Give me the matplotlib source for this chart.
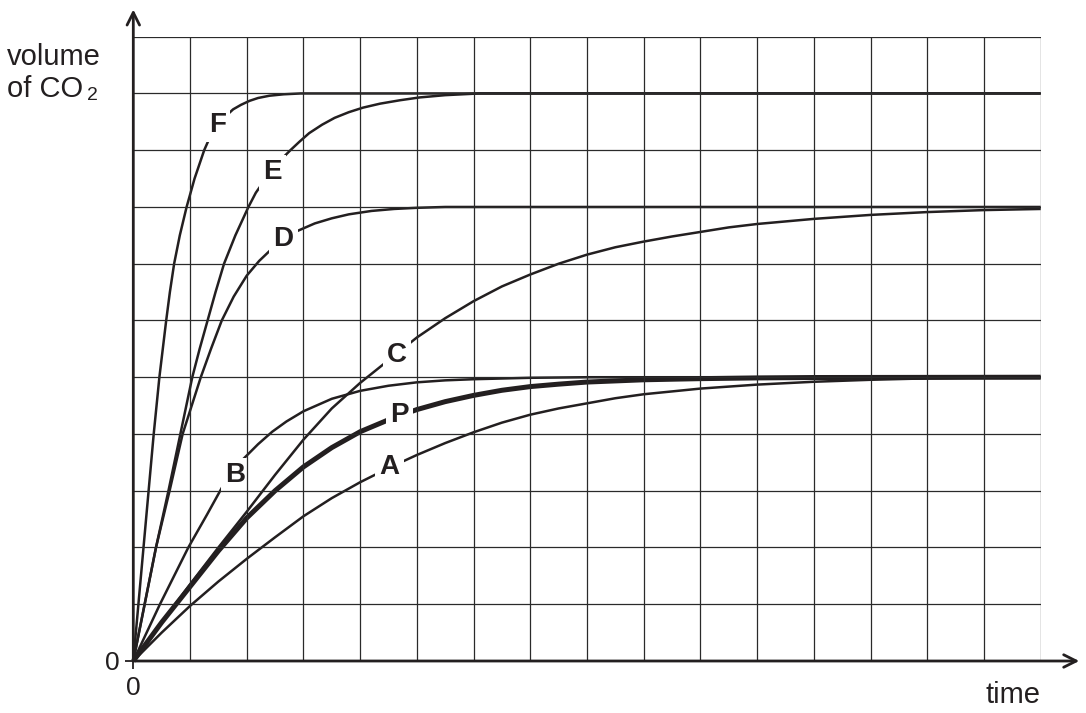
import matplotlib
matplotlib.use("Agg")
import matplotlib.pyplot as plt

plt.rcParams['font.family'] = ['Liberation Sans', 'DejaVu Sans']

# ---- data (grid units: time 0..16, volume 0..11) ----
F_x = [0, 0.09, 0.18, 0.27, 0.36, 0.46, 0.58, 0.645, 0.72, 0.82, 0.94, 1.08, 1.25, 1.36, 1.5, 1.63, 1.76, 1.9, 2.05, 2.2, 2.4, 2.65, 2.95, 16]
F_y = [0, 1, 2, 3, 4, 5, 6, 6.5, 7, 7.5, 8, 8.5, 9, 9.25, 9.45, 9.6, 9.72, 9.8, 9.87, 9.92, 9.96, 9.985, 10, 10]

E_x = [0, 0.4, 0.62, 0.83, 1.04, 1.17, 1.31, 1.45, 1.6, 1.8, 2.03, 2.16, 2.3, 2.46, 2.62, 2.77, 2.93, 3.1, 3.33, 3.55, 3.8, 4.05, 4.35, 4.7, 5.05, 5.5, 6.1, 16]
E_y = [0, 2, 3, 4, 5, 5.5, 6, 6.5, 7, 7.5, 8, 8.25, 8.45, 8.65, 8.85, 9.0, 9.15, 9.3, 9.45, 9.57, 9.67, 9.75, 9.82, 9.88, 9.93, 9.97, 10, 10]

D_x = [0, 0.4, 0.64, 0.87, 1.03, 1.19, 1.37, 1.56, 1.77, 2.0, 2.22, 2.44, 2.65, 2.9, 3.2, 3.5, 3.8, 4.2, 4.6, 5.0, 5.5, 16]
D_y = [0, 2, 3, 4, 4.5, 5, 5.5, 6, 6.42, 6.79, 7.05, 7.26, 7.43, 7.58, 7.71, 7.8, 7.87, 7.93, 7.965, 7.985, 8.0, 8.0]

C_x = [0, 0.5, 1.0, 1.5, 2.0, 2.5, 3.0, 3.5, 4.0, 4.5, 5.0, 5.5, 6.0, 6.5, 7.0, 7.5, 8.0, 8.5, 9.0, 9.5, 10.0, 10.5, 11.0, 12.0, 13.0, 14.0, 15.0, 16.0]
C_y = [0, 0.68, 1.35, 2.0, 2.63, 3.28, 3.9, 4.45, 4.9, 5.3, 5.7, 6.04, 6.34, 6.6, 6.81, 7.0, 7.16, 7.29, 7.39, 7.48, 7.56, 7.64, 7.7, 7.79, 7.86, 7.91, 7.945, 7.965]

P_x = [0, 0.5, 1.0, 1.5, 2.0, 2.5, 3.0, 3.5, 4.0, 4.5, 5.0, 5.5, 6.0, 6.5, 7.0, 7.5, 8.0, 9.0, 10.0, 11.0, 12.0, 16.0]
P_y = [0, 0.68, 1.31, 1.94, 2.52, 3.0, 3.42, 3.76, 4.04, 4.25, 4.43, 4.57, 4.68, 4.77, 4.835, 4.878, 4.915, 4.955, 4.975, 4.988, 4.995, 5.0]

B_x = [0, 0.47, 0.97, 1.3, 1.56, 1.75, 1.94, 2.2, 2.45, 2.7, 3.0, 3.5, 4.0, 4.5, 5.0, 5.5, 6.0, 7.0, 8.0, 16]
B_y = [0, 1, 2, 2.58, 3.05, 3.33, 3.56, 3.82, 4.04, 4.22, 4.4, 4.62, 4.76, 4.85, 4.91, 4.945, 4.965, 4.99, 5.0, 5.0]

A_x = [0, 0.5, 1.0, 1.5, 2.0, 2.5, 3.0, 3.5, 4.0, 4.5, 5.0, 5.5, 6.0, 6.5, 7.0, 7.5, 8.0, 8.5, 9.0, 9.5, 10.0, 11.0, 12.0, 13.0, 14.0, 15.0, 16.0]
A_y = [0, 0.5, 0.97, 1.4, 1.8, 2.18, 2.55, 2.87, 3.15, 3.4, 3.63, 3.84, 4.03, 4.2, 4.34, 4.45, 4.54, 4.63, 4.7, 4.75, 4.8, 4.87, 4.92, 4.955, 4.98, 4.995, 5.0]

curve_names = ['F', 'E', 'D', 'C', 'P', 'B', 'A']
label_pos = {'F': (1.49, 9.45), 'E': (2.46, 8.61), 'D': (2.65, 7.44),
             'C': (4.65, 5.40), 'P': (4.69, 4.34), 'B': (1.80, 3.28), 'A': (4.52, 3.42)}

x_ticks = [0]
y_ticks = [0]
x_label = 'time'
y_label_1 = 'volume'
y_label_2 = 'of CO'
y_label_sub = '2'

# ---- figure ----
W, H = 1086, 713
fig = plt.figure(figsize=(W / 100, H / 100), dpi=100)
left_px, right_px, top_px, bot_px = 133.3, 1040.7, 36.7, 661.0
ax = fig.add_axes([left_px / W, 1 - bot_px / H, (right_px - left_px) / W, (bot_px - top_px) / H])
ax.set_xlim(0, 16)
ax.set_ylim(0, 11)
for s in ax.spines.values():
    s.set_visible(False)

ink = '#231f20'

# grid
ax.vlines(range(1, 17), 0, 11, colors='#2a2a2a', linewidth=0.9, zorder=4)
ax.hlines(range(1, 12), 0, 16, colors='#2a2a2a', linewidth=0.9, zorder=4)

# curves
series = {'F': (F_x, F_y), 'E': (E_x, E_y), 'D': (D_x, D_y), 'C': (C_x, C_y),
          'P': (P_x, P_y), 'B': (B_x, B_y), 'A': (A_x, A_y)}
for name in curve_names:
    xs, ys = series[name]
    lw = 3.6 if name == 'P' else 1.8
    ax.plot(xs, ys, color=ink, linewidth=lw, solid_capstyle='butt',
            solid_joinstyle='round', zorder=2, clip_on=False)
    lx, ly = label_pos[name]
    ax.text(lx, ly, name, fontsize=20, fontweight='bold', color=ink,
            ha='center', va='center', zorder=3,
            bbox=dict(boxstyle='square,pad=0.15', fc='white', ec='none'))

# axes with open arrowheads
arrow = dict(arrowstyle='->,head_length=0.9,head_width=0.45', lw=2.0,
             color=ink, shrinkA=0, shrinkB=0)
ax.annotate('', xy=(0, 11.48), xytext=(0, 0), arrowprops=arrow,
            annotation_clip=False, zorder=5)
ax.annotate('', xy=(16.68, 0), xytext=(0, 0), arrowprops=arrow,
            annotation_clip=False, zorder=5)

# ticks
ax.set_xticks(x_ticks)
ax.set_xticklabels([str(v) for v in x_ticks])
ax.set_yticks(y_ticks)
ax.set_yticklabels([str(v) for v in y_ticks])
ax.tick_params(axis='both', length=6, width=1.3, color=ink, labelsize=19, labelcolor=ink)
ax.tick_params(axis='x', pad=5)
ax.tick_params(axis='y', pad=4)

# axis texts
fig.text(7 / W, 1 - 65 / H, y_label_1, fontsize=21, color=ink, ha='left', va='baseline')
fig.text(7 / W, 1 - 97 / H, y_label_2, fontsize=21, color=ink, ha='left', va='baseline')
fig.text(87 / W, 1 - 100 / H, y_label_sub, fontsize=14, color=ink, ha='left', va='baseline')
fig.text(right_px / W, 1 - 703 / H, x_label, fontsize=21, color=ink, ha='right', va='baseline')

fig.savefig('out.png', dpi=100, facecolor='white')
